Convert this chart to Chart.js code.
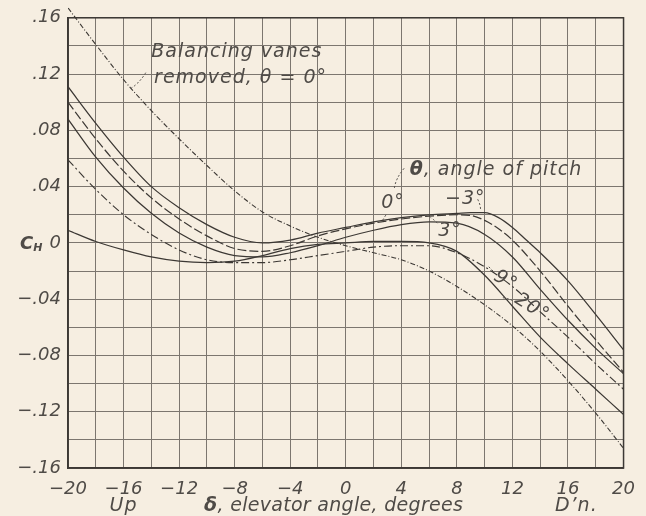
<!DOCTYPE html>
<html>
<head>
<meta charset="utf-8">
<script src="https://cdn.jsdelivr.net/npm/chart.js@4.4.1/dist/chart.umd.min.js"></script>
<style>
  html, body { margin: 0; padding: 0; background: #f6eee1; }
  #wrap { width: 646px; height: 516px; position: relative; }
  canvas { display: block; }
</style>
</head>
<body>
<div id="wrap"><canvas id="c" width="646" height="516"></canvas></div>
<script>
// ---- data (elevator angle δ, degrees; hinge-moment coefficient C_H) ----
const deltaStep = [-20,-18,-16,-14,-12,-10,-8,-6,-4,-2,0,2,4,6,8,10,12,14,16,18,20];

const deltaM3 = [-20,-18,-16,-14,-12,-10,-8,-6,-4,-2,0,2,4,6,8,9,10,11,12,13,14,16,18,20];
const chPitchM3 = [0.111,0.085,0.061,0.040,0.025,0.013,0.004,0.000,0.002,0.007,0.011,0.015,0.018,0.020,0.021,0.0215,0.0215,0.018,0.011,0.002,-0.007,-0.027,-0.051,-0.076];

const delta0 = [-20,-18,-16,-14,-12,-10,-8,-6,-4,-2,0,2,4,6,8,9,10,11,12,14,16,18,20];
const chPitch0 = [0.100,0.074,0.051,0.032,0.017,0.005,-0.004,-0.006,-0.002,0.005,0.010,0.014,0.017,0.019,0.020,0.0195,0.016,0.010,0.002,-0.020,-0.045,-0.069,-0.092];

const chPitch3 = [0.088,0.061,0.039,0.021,0.007,-0.003,-0.009,-0.010,-0.007,-0.002,0.004,0.009,0.013,0.015,0.014,0.006,-0.010,-0.033,-0.055,-0.075,-0.093];
const chPitch9 = [0.059,0.038,0.020,0.006,-0.005,-0.012,-0.014,-0.014,-0.012,-0.009,-0.006,-0.003,-0.002,-0.002,-0.007,-0.017,-0.031,-0.049,-0.067,-0.086,-0.104];
const chPitch20 = [0.009,0.001,-0.005,-0.010,-0.013,-0.014,-0.013,-0.009,-0.004,-0.001,0.000,0.001,0.001,0.000,-0.006,-0.023,-0.045,-0.067,-0.086,-0.104,-0.122];
const chVanesRemoved = [0.167,0.141,0.116,0.094,0.074,0.055,0.037,0.022,0.012,0.004,-0.002,-0.007,-0.012,-0.020,-0.031,-0.044,-0.059,-0.077,-0.098,-0.121,-0.146];

const xTicks = [-20,-16,-12,-8,-4,0,4,8,12,16,20];
const yTicks = [-0.16,-0.12,-0.08,-0.04,0,0.04,0.08,0.12,0.16];

// ---- helpers ----
const pts = (xs, ys) => xs.map((x, i) => ({x: x, y: ys[i]}));
const INK = '#3c3834';
const GRID = '#7c766f';
const TXT = '#4f4b47';
const FONT = "'DejaVu Sans', 'Liberation Sans', sans-serif";

function fmtY(v) {
  const r = Math.round(v * 100) / 100;
  if (Math.abs(r) < 1e-9) return '0';
  const s = Math.abs(r).toFixed(2).replace(/^0/, '');
  return (r < 0 ? '\u2212' : '') + s;
}
function fmtX(v) {
  return (v < 0 ? '\u2212' : '') + Math.abs(v);
}
const isTick = (v, arr) => arr.some(t => Math.abs(t - v) < 1e-6);

function ds(label, data, dash, width) {
  return {
    label: label, data: data,
    borderColor: INK, borderWidth: width || 1.2, borderDash: dash || [],
    pointRadius: 0, fill: false, cubicInterpolationMode: 'monotone'
  };
}

// ---- frame around the plot area ----
const frame = {
  id: 'frame',
  beforeDatasetsDraw(chart) {
    const a = chart.chartArea, ctx = chart.ctx;
    ctx.save();
    ctx.strokeStyle = INK;
    ctx.lineWidth = 1.5;
    ctx.strokeRect(a.left, a.top, a.right - a.left, a.bottom - a.top);
    ctx.restore();
  }
};

// ---- annotation plugin (text drawn at data coordinates) ----
const notes = {
  id: 'notes',
  afterDatasetsDraw(chart) {
    const ctx = chart.ctx, xs = chart.scales.x, ys = chart.scales.y;
    const X = v => xs.getPixelForValue(v), Y = v => ys.getPixelForValue(v);
    ctx.save();
    ctx.fillStyle = TXT;
    ctx.strokeStyle = TXT;
    ctx.textBaseline = 'middle';
    const txt = (s, x, y, size, align, rot) => {
      ctx.save();
      ctx.translate(X(x), Y(y));
      if (rot) ctx.rotate(rot * Math.PI / 180);
      ctx.font = 'italic 300 ' + size + 'px ' + FONT;
      ctx.letterSpacing = '1px';
      ctx.textAlign = align || 'left';
      ctx.fillText(s, 0, 0);
      ctx.restore();
    };
    txt('Balancing vanes', -14.0, 0.136, 19);
    txt('removed, \u03b8 = 0\u00b0', -13.8, 0.117, 19);
    // θ, angle of pitch
    ctx.save();
    ctx.letterSpacing = '1px';
    ctx.font = 'italic bold 19px ' + FONT;
    ctx.textAlign = 'left';
    ctx.fillText('\u03b8', X(4.6), Y(0.052));
    const wTheta = ctx.measureText('\u03b8').width;
    ctx.font = 'italic 300 19px ' + FONT;
    ctx.fillText(', angle of pitch', X(4.6) + wTheta, Y(0.052));
    ctx.restore();
    txt('0\u00b0', 3.4, 0.028, 19, 'center');
    txt('\u22123\u00b0', 8.6, 0.031, 19, 'center');
    txt('3\u00b0', 7.5, 0.0085, 19, 'center');
    txt('9\u00b0', 11.5, -0.027, 19, 'center', 30);
    txt('20\u00b0', 13.4, -0.046, 19, 'center', 32);

    // dotted leader strokes
    ctx.setLineDash([2, 2]);
    ctx.lineWidth = 1;
    const lead = (a) => {
      ctx.beginPath();
      ctx.moveTo(X(a[0]), Y(a[1]));
      ctx.quadraticCurveTo(X(a[2]), Y(a[3]), X(a[4]), Y(a[5]));
      ctx.stroke();
    };
    lead([-14.4, 0.121, -14.9, 0.113, -15.6, 0.109]);
    lead([4.2, 0.053, 3.6, 0.046, 3.5, 0.039]);
    lead([2.9, 0.020, 2.7, 0.017, 2.6, 0.015]);
    lead([9.5, 0.031, 9.7, 0.027, 9.7, 0.024]);
    lead([6.6, 0.014, 6.3, 0.017, 6.1, 0.018]);
    lead([10.6, -0.020, 10.4, -0.018, 10.2, -0.016]);
    lead([12.0, -0.041, 11.6, -0.039, 11.3, -0.039]);
    ctx.restore();
  }
};

// ---- axis texts below the chart ----
const axisText = {
  id: 'axisText',
  afterDraw(chart) {
    const ctx = chart.ctx, xs = chart.scales.x, ys = chart.scales.y;
    ctx.save();
    ctx.fillStyle = TXT;
    ctx.textBaseline = 'middle';
    ctx.letterSpacing = '1px';
    ctx.font = 'italic 300 19px ' + FONT;
    ctx.textAlign = 'center';
    ctx.fillText('Up', xs.getPixelForValue(-16), 506);
    ctx.fillText('D\u2019n.', xs.getPixelForValue(16.6), 506);
    // δ, elevator angle, degrees
    ctx.letterSpacing = '0.3px';
    ctx.textAlign = 'left';
    ctx.font = 'italic bold 19px ' + FONT;
    const x0 = xs.getPixelForValue(-10.2);
    ctx.fillText('\u03b4', x0, 506);
    const w = ctx.measureText('\u03b4').width;
    ctx.font = 'italic 300 19px ' + FONT;
    ctx.fillText(', elevator angle, degrees', x0 + w, 506);
    // C_H
    ctx.letterSpacing = '0px';
    const y0 = ys.getPixelForValue(0);
    ctx.font = 'italic bold 18px ' + FONT;
    ctx.fillText('C', 20, y0 + 1);
    const wc = ctx.measureText('C').width;
    ctx.font = 'italic bold 11px ' + FONT;
    ctx.fillText('H', 20 + wc, y0 + 5);
    ctx.restore();
  }
};

new Chart(document.getElementById('c'), {
  type: 'line',
  data: {
    datasets: [
      Object.assign(ds('Balancing vanes removed, \u03b8 = 0\u00b0', pts(deltaStep, chVanesRemoved), [5, 2, 1, 2], 1.1), {clip: {left: 0, right: 0, top: 10, bottom: 0}}),
      ds('\u03b8 = \u22123\u00b0', pts(deltaM3, chPitchM3), [], 1.25),
      ds('\u03b8 = 0\u00b0', pts(delta0, chPitch0), [9, 3], 1.2),
      ds('\u03b8 = 3\u00b0', pts(deltaStep, chPitch3), [], 1.25),
      ds('\u03b8 = 9\u00b0', pts(deltaStep, chPitch9), [8, 3, 2, 3], 1.15),
      ds('\u03b8 = 20\u00b0', pts(deltaStep, chPitch20), [], 1.25)
    ]
  },
  options: {
    responsive: false,
    animation: false,
    events: [],
    layout: { padding: { top: 16, right: 12, left: 0, bottom: 0 } },
    plugins: { legend: { display: false }, tooltip: { enabled: false }, title: { display: false } },
    scales: {
      x: {
        type: 'linear', min: -20, max: 20,
        afterFit(s) { s.height = 48; },
        afterBuildTicks(s) { const t = []; for (let v = -20; v <= 20; v += 2) t.push({value: v}); s.ticks = t; },
        grid: { color: GRID, lineWidth: 1, drawTicks: false },
        border: { color: INK, width: 1.6 },
        ticks: {
          autoSkip: false, maxRotation: 0, padding: 11, color: TXT,
          font: { family: FONT, size: 18, style: 'italic', weight: 300 },
          callback: v => isTick(v, xTicks) ? fmtX(v) : ''
        }
      },
      y: {
        type: 'linear', min: -0.16, max: 0.16,
        afterFit(s) { s.width = 68; },
        afterBuildTicks(s) { const t = []; for (let i = -8; i <= 8; i++) t.push({value: i * 0.02}); s.ticks = t; },
        grid: { color: GRID, lineWidth: 1, drawTicks: false },
        border: { color: INK, width: 1.6 },
        ticks: {
          autoSkip: false, padding: 7, color: TXT,
          font: { family: FONT, size: 18, style: 'italic', weight: 300 },
          callback: v => isTick(v, yTicks) ? fmtY(v) : ''
        }
      }
    }
  },
  plugins: [frame, notes, axisText]
});
</script>
</body>
</html>
